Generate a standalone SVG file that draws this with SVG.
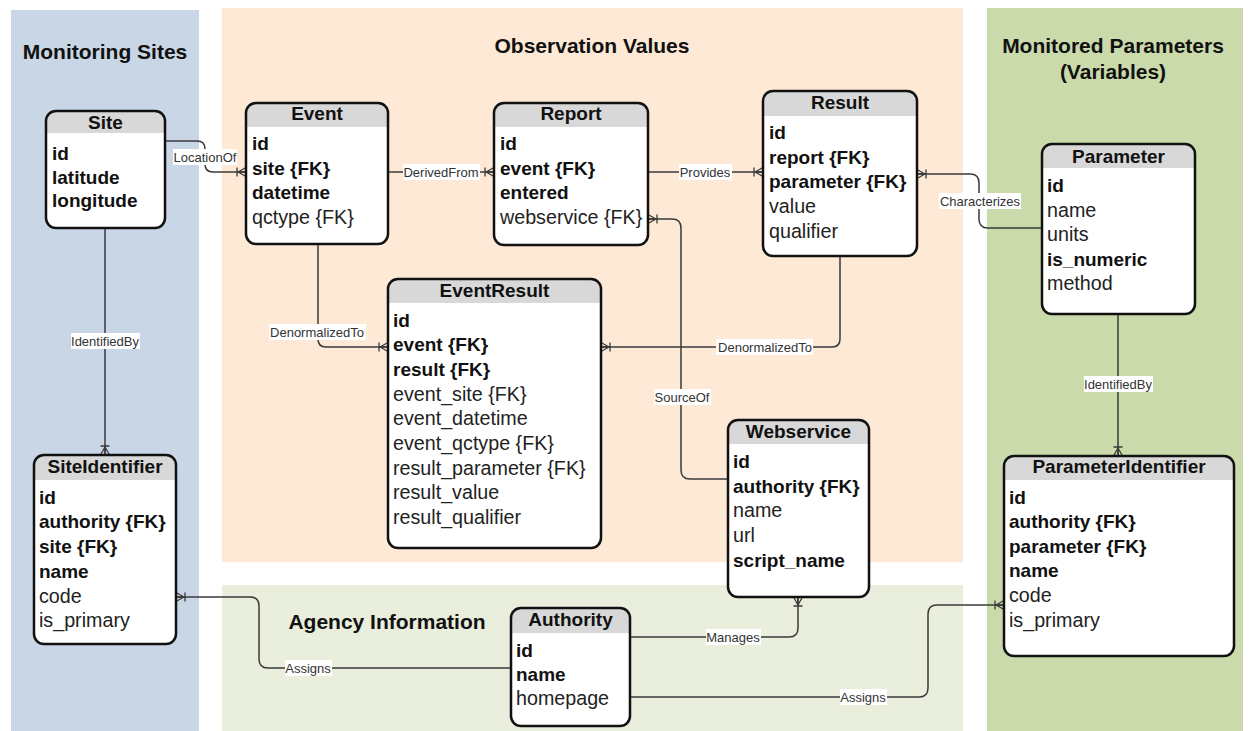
<svg xmlns="http://www.w3.org/2000/svg" width="1254" height="731" viewBox="0 0 1254 731">
<style>
.panel-title{font-family:"Liberation Sans",Arial,sans-serif;font-size:21px;font-weight:bold;fill:#111;text-anchor:middle}
.box{fill:#fff;stroke:none}
.hdr{fill:#d8d8d8}
.outline{fill:none;stroke:#111;stroke-width:2.5}
.title{font-family:"Liberation Sans",Arial,sans-serif;font-size:19px;font-weight:bold;fill:#111;text-anchor:middle}
.f{font-family:"Liberation Sans",Arial,sans-serif;font-size:19.7px;fill:#222}
.b{font-weight:bold;fill:#111;font-size:19px}
.conn{fill:none;stroke:#3a3a3a;stroke-width:1.5}
.lblbg{fill:#fff}
.lbl{font-family:"Liberation Sans",Arial,sans-serif;font-size:13px;fill:#333;text-anchor:middle}
</style>
<defs>
<marker id="crow" markerUnits="userSpaceOnUse" markerWidth="16" markerHeight="16" viewBox="-12 -8 16 16" refX="0" refY="0" orient="auto" overflow="visible">
<path d="M-9,-4.5 V4.5 M-8,0 L0,-4.5 M-8,0 L0,4.5 M-9,0 H0" fill="none" stroke="#3a3a3a" stroke-width="1.3"/>
</marker>
</defs>
<rect width="1254" height="731" fill="#fff"/>
<g id="panels">
<rect x="11" y="10" width="188" height="721" fill="#c9d6e6"/>
<rect x="222" y="8" width="741" height="554" fill="#fde9d6"/>
<rect x="222" y="585" width="741" height="146" fill="#e9eedd"/>
<rect x="987" y="8" width="256" height="723" fill="#cbdaab"/>
<text class="panel-title" x="105" y="59">Monitoring Sites</text>
<text class="panel-title" x="592" y="53">Observation Values</text>
<text class="panel-title" x="1113" y="53">Monitored Parameters</text>
<text class="panel-title" x="1113" y="79">(Variables)</text>
<text class="panel-title" x="387" y="629">Agency Information</text>
</g>
<g id="connectors">
<path class="conn" d="M165,141 H197 Q205,141 205,149 V164 Q205,172 213,172 H246" marker-end="url(#crow)"/>
<path class="conn" d="M388,172 H494" marker-end="url(#crow)"/>
<path class="conn" d="M648,172 H763" marker-end="url(#crow)"/>
<path class="conn" d="M1042,228 H988 Q979,228 979,219 V183 Q979,174 970,174 H917" marker-end="url(#crow)"/>
<path class="conn" d="M318,244 V339 Q318,347 326,347 H388" marker-end="url(#crow)"/>
<path class="conn" d="M840,256 V339 Q840,347 832,347 H601" marker-end="url(#crow)"/>
<path class="conn" d="M728,479 H690 Q681,479 681,470 V228 Q681,219 672,219 H648" marker-end="url(#crow)"/>
<path class="conn" d="M105,228 V455" marker-end="url(#crow)"/>
<path class="conn" d="M1118,314 V456" marker-end="url(#crow)"/>
<path class="conn" d="M511,668 H268 Q259,668 259,659 V606 Q259,597 250,597 H176" marker-end="url(#crow)"/>
<path class="conn" d="M630,637 H789 Q798,637 798,628 V597" marker-end="url(#crow)"/>
<path class="conn" d="M630,697 H919 Q928,697 928,688 V614 Q928,605 937,605 H1004" marker-end="url(#crow)"/>
<rect class="lblbg" x="173" y="149" width="64" height="16"/><text class="lbl" x="205" y="162">LocationOf</text>
<rect class="lblbg" x="403" y="164" width="77" height="16"/><text class="lbl" x="441" y="177">DerivedFrom</text>
<rect class="lblbg" x="679" y="164" width="53" height="16"/><text class="lbl" x="705" y="177">Provides</text>
<rect class="lblbg" x="939" y="193" width="82" height="16"/><text class="lbl" x="980" y="206">Characterizes</text>
<rect class="lblbg" x="269" y="324" width="97" height="16"/><text class="lbl" x="317" y="337">DenormalizedTo</text>
<rect class="lblbg" x="716" y="339" width="97" height="16"/><text class="lbl" x="765" y="352">DenormalizedTo</text>
<rect class="lblbg" x="654" y="389" width="57" height="16"/><text class="lbl" x="682" y="402">SourceOf</text>
<rect class="lblbg" x="71" y="333" width="69" height="16"/><text class="lbl" x="105" y="346">IdentifiedBy</text>
<rect class="lblbg" x="1084" y="376" width="69" height="16"/><text class="lbl" x="1118" y="389">IdentifiedBy</text>
<rect class="lblbg" x="285" y="660" width="47" height="16"/><text class="lbl" x="308" y="673">Assigns</text>
<rect class="lblbg" x="706" y="629" width="55" height="16"/><text class="lbl" x="733" y="642">Manages</text>
<rect class="lblbg" x="840" y="689" width="47" height="16"/><text class="lbl" x="863" y="702">Assigns</text>
</g>
<g id="node-site">
<rect class="box" x="46" y="111" width="119" height="117" rx="10"/>
<path class="hdr" d="M46,133 V121 Q46,111 56,111 H155 Q165,111 165,121 V133 Z"/>
<rect class="outline" x="46" y="111" width="119" height="117" rx="10"/>
<text class="title" x="105.5" y="129">Site</text>
<text class="f b" x="52" y="160">id</text>
<text class="f b" x="52" y="184">latitude</text>
<text class="f b" x="52" y="207">longitude</text>
</g>
<g id="node-event">
<rect class="box" x="246" y="103" width="142" height="141" rx="10"/>
<path class="hdr" d="M246,127 V113 Q246,103 256,103 H378 Q388,103 388,113 V127 Z"/>
<rect class="outline" x="246" y="103" width="142" height="141" rx="10"/>
<text class="title" x="317" y="120">Event</text>
<text class="f b" x="252" y="150">id</text>
<text class="f b" x="252" y="175">site {FK}</text>
<text class="f b" x="252" y="199">datetime</text>
<text class="f" x="252" y="224">qctype {FK}</text>
</g>
<g id="node-report">
<rect class="box" x="494" y="103" width="154" height="142" rx="10"/>
<path class="hdr" d="M494,127 V113 Q494,103 504,103 H638 Q648,103 648,113 V127 Z"/>
<rect class="outline" x="494" y="103" width="154" height="142" rx="10"/>
<text class="title" x="571" y="120">Report</text>
<text class="f b" x="500" y="150">id</text>
<text class="f b" x="500" y="175">event {FK}</text>
<text class="f b" x="500" y="199">entered</text>
<text class="f" x="500" y="224">webservice {FK}</text>
</g>
<g id="node-result">
<rect class="box" x="763" y="91" width="154" height="165" rx="10"/>
<path class="hdr" d="M763,116 V101 Q763,91 773,91 H907 Q917,91 917,101 V116 Z"/>
<rect class="outline" x="763" y="91" width="154" height="165" rx="10"/>
<text class="title" x="840" y="109">Result</text>
<text class="f b" x="769" y="139">id</text>
<text class="f b" x="769" y="164">report {FK}</text>
<text class="f b" x="769" y="188">parameter {FK}</text>
<text class="f" x="769" y="213">value</text>
<text class="f" x="769" y="238">qualifier</text>
</g>
<g id="node-parameter">
<rect class="box" x="1042" y="144" width="153" height="170" rx="10"/>
<path class="hdr" d="M1042,168 V154 Q1042,144 1052,144 H1185 Q1195,144 1195,154 V168 Z"/>
<rect class="outline" x="1042" y="144" width="153" height="170" rx="10"/>
<text class="title" x="1118.5" y="163">Parameter</text>
<text class="f b" x="1047" y="192">id</text>
<text class="f" x="1047" y="217">name</text>
<text class="f" x="1047" y="241">units</text>
<text class="f b" x="1047" y="266">is_numeric</text>
<text class="f" x="1047" y="290">method</text>
</g>
<g id="node-eventresult">
<rect class="box" x="388" y="279" width="213" height="269" rx="10"/>
<path class="hdr" d="M388,303 V289 Q388,279 398,279 H591 Q601,279 601,289 V303 Z"/>
<rect class="outline" x="388" y="279" width="213" height="269" rx="10"/>
<text class="title" x="494.5" y="297">EventResult</text>
<text class="f b" x="393" y="327">id</text>
<text class="f b" x="393" y="351">event {FK}</text>
<text class="f b" x="393" y="376">result {FK}</text>
<text class="f" x="393" y="401">event_site {FK}</text>
<text class="f" x="393" y="425">event_datetime</text>
<text class="f" x="393" y="450">event_qctype {FK}</text>
<text class="f" x="393" y="475">result_parameter {FK}</text>
<text class="f" x="393" y="499">result_value</text>
<text class="f" x="393" y="524">result_qualifier</text>
</g>
<g id="node-webservice">
<rect class="box" x="728" y="420" width="141" height="177" rx="10"/>
<path class="hdr" d="M728,444 V430 Q728,420 738,420 H859 Q869,420 869,430 V444 Z"/>
<rect class="outline" x="728" y="420" width="141" height="177" rx="10"/>
<text class="title" x="798.5" y="438">Webservice</text>
<text class="f b" x="733" y="468">id</text>
<text class="f b" x="733" y="493">authority {FK}</text>
<text class="f" x="733" y="517">name</text>
<text class="f" x="733" y="542">url</text>
<text class="f b" x="733" y="567">script_name</text>
</g>
<g id="node-siteidentifier">
<rect class="box" x="34" y="455" width="142" height="189" rx="10"/>
<path class="hdr" d="M34,480 V465 Q34,455 44,455 H166 Q176,455 176,465 V480 Z"/>
<rect class="outline" x="34" y="455" width="142" height="189" rx="10"/>
<text class="title" x="105" y="473">SiteIdentifier</text>
<text class="f b" x="39" y="504">id</text>
<text class="f b" x="39" y="528">authority {FK}</text>
<text class="f b" x="39" y="553">site {FK}</text>
<text class="f b" x="39" y="578">name</text>
<text class="f" x="39" y="603">code</text>
<text class="f" x="39" y="627">is_primary</text>
</g>
<g id="node-authority">
<rect class="box" x="511" y="608" width="119" height="118" rx="10"/>
<path class="hdr" d="M511,633 V618 Q511,608 521,608 H620 Q630,608 630,618 V633 Z"/>
<rect class="outline" x="511" y="608" width="119" height="118" rx="10"/>
<text class="title" x="570.5" y="626">Authority</text>
<text class="f b" x="516" y="657">id</text>
<text class="f b" x="516" y="681">name</text>
<text class="f" x="516" y="705">homepage</text>
</g>
<g id="node-parameteridentifier">
<rect class="box" x="1004" y="456" width="230" height="200" rx="10"/>
<path class="hdr" d="M1004,480 V466 Q1004,456 1014,456 H1224 Q1234,456 1234,466 V480 Z"/>
<rect class="outline" x="1004" y="456" width="230" height="200" rx="10"/>
<text class="title" x="1119" y="473">ParameterIdentifier</text>
<text class="f b" x="1009" y="504">id</text>
<text class="f b" x="1009" y="528">authority {FK}</text>
<text class="f b" x="1009" y="553">parameter {FK}</text>
<text class="f b" x="1009" y="577">name</text>
<text class="f" x="1009" y="602">code</text>
<text class="f" x="1009" y="627">is_primary</text>
</g>
</svg>
